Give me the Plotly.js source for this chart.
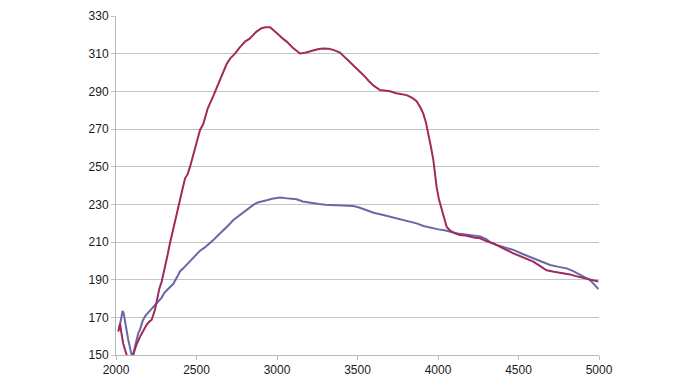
<!DOCTYPE html>
<html>
<head>
<meta charset="utf-8">
<script src="https://cdn.plot.ly/plotly-3.0.1.min.js"></script>
<style>html,body{margin:0;padding:0;background:#fff;}#chart{width:700px;height:387px;}</style>
</head>
<body>
<div id="chart"></div>
<script>
var redX = [2014,2020,2025,2035,2045,2066,2080,2095,2107,2125,2149,2170,2190,2210,2221,2242,2253,2270,2284,2295,2304,2320,2335,2360,2387,2410,2429,2445,2460,2490,2522,2542,2570,2604,2625,2646,2665,2687,2710,2739,2770,2801,2830,2853,2873,2904,2930,2957,2980,2998,3030,3060,3100,3143,3175,3205,3230,3260,3288,3320,3350,3391,3430,3474,3505,3536,3570,3600,3640,3670,3702,3740,3775,3805,3840,3867,3890,3908,3925,3940,3955,3971,3981,3991,4005,4023,4040,4054,4070,4085,4110,4137,4170,4200,4230,4261,4300,4344,4385,4420,4468,4520,4560,4592,4630,4675,4720,4778,4820,4850,4882,4920,4960,4996];
var redY = [162.4,166,166.8,161,156,150,146,147,150,155,159.7,163,166,168,168.6,174,179,185.5,189,193,197,203,209.3,219,228.8,237,243.8,246,250,260,269.5,272.6,281,287.5,292,296.5,300.5,304.5,307.5,310,313.5,316.4,318,320,321.7,323.5,324,324,322.5,321,318.5,316.4,313,310.1,310.5,311,311.8,312.5,312.8,312.6,312,310.6,307.5,304,301.5,298.7,295.5,293,290.7,290.3,290,289,288.5,288,286.5,284.8,281.5,278.3,273.5,267.7,261,253.6,246,239.4,233,227,221.5,218,216.5,215.5,214.5,213.7,213.4,212.8,212.3,212,210.5,209.3,207.3,206,204,202,200.5,199.6,197.5,195,194.2,193.4,192.8,192,191.3,190.5,189.7,189];
var blueX = [2018,2025,2033,2041,2048,2056,2066,2076,2087,2097,2103,2110,2125,2138,2149,2165,2180,2200,2232,2260,2284,2300,2330,2356,2380,2398,2418,2450,2480,2501,2522,2550,2580,2604,2625,2660,2700,2729,2770,2800,2830,2853,2880,2910,2936,2970,3000,3019,3050,3080,3122,3160,3190,3225,3260,3300,3350,3400,3440,3474,3510,3557,3600,3660,3710,3764,3810,3867,3910,3950,4002,4040,4075,4120,4170,4220,4261,4300,4330,4364,4420,4468,4530,4592,4640,4696,4750,4799,4840,4882,4915,4944,4970,4996];
var blueY = [163,166.8,171,173.4,172,168.6,163,158,153,150,149,152,157,161.5,163.5,168,170.5,172.5,175.5,178.5,180.5,183,185.5,187.8,191.5,194.5,196,199,202,204,205.4,207,209,211,212.8,215.5,219,221.7,224.4,226.5,228.5,229.7,231,231.5,232.2,233,233.4,233.6,233.3,233.2,232.7,231.5,231,230.5,230.2,229.8,229.7,229.6,229.3,229.1,228.3,227,225.5,224.3,223.2,222,221,219.9,218.5,217.6,216.7,216.2,215.5,214.5,214,213.5,213,211.5,209.5,208.4,207,205.8,203.5,201.3,199.5,197.8,196.8,196,194.5,192.5,191.2,189.8,187.5,185];
var xTicks = [2000,2500,3000,3500,4000,4500,5000];
var yTicks = [150,170,190,210,230,250,270,290,310,330];

var traces = [
  {x: blueX, y: blueY, type: 'scatter', mode: 'lines', line: {color: '#6668a8', width: 2}, hoverinfo: 'skip'},
  {x: redX, y: redY, type: 'scatter', mode: 'lines', line: {color: '#a02a5c', width: 2}, hoverinfo: 'skip'}
];
var fontF = 'Liberation Sans, Arial, sans-serif';
var layout = {
  width: 700, height: 387,
  margin: {l: 116, r: 101, t: 16, b: 32, pad: 0},
  paper_bgcolor: '#ffffff', plot_bgcolor: '#ffffff',
  showlegend: false,
  xaxis: {
    range: [2000, 5000], tickvals: xTicks, ticktext: xTicks.map(String),
    showgrid: false, zeroline: false, showline: true, linecolor: '#b8b8b8', linewidth: 1,
    ticks: 'outside', ticklen: 4, tickcolor: '#b8b8b8', tickwidth: 1,
    tickfont: {family: fontF, size: 12, color: '#1a1a1a'}
  },
  yaxis: {
    range: [150, 330], tickvals: yTicks, ticktext: yTicks.map(String),
    showgrid: true, gridcolor: '#c4c4c4', gridwidth: 1, zeroline: false,
    showline: true, linecolor: '#b8b8b8', linewidth: 1,
    ticks: 'outside', ticklen: 4, tickcolor: '#c4c4c4', tickwidth: 1,
    tickfont: {family: fontF, size: 12, color: '#1a1a1a'}
  }
};
Plotly.newPlot('chart', traces, layout, {displayModeBar: false, staticPlot: true});
</script>
</body>
</html>
